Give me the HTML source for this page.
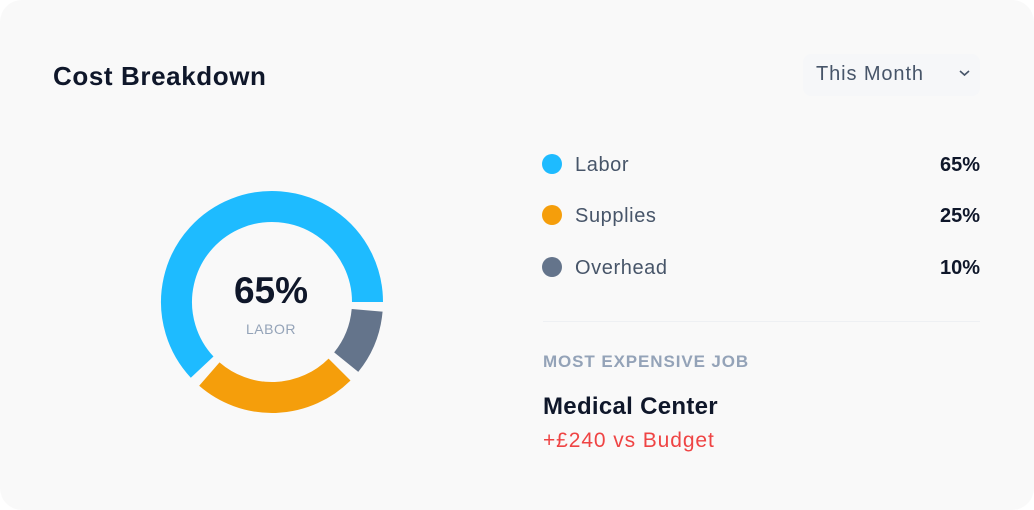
<!DOCTYPE html>
<html><head><meta charset="utf-8"><style>
html,body{margin:0;padding:0;background:#fff;}
body{width:1034px;height:510px;position:relative;overflow:hidden;font-family:"Liberation Sans",sans-serif;}
.card{position:absolute;left:0;top:0;width:1034px;height:510px;background:#f9f9f9;border-radius:22px;}
.t{position:absolute;white-space:nowrap;}
.dot{position:absolute;width:20px;height:20px;border-radius:50%;}
</style></head><body>
<div class="card"></div>
<div class="t" style="left:53px;top:61px;font-size:26px;font-weight:bold;color:#0f172a;letter-spacing:0.6px;">Cost Breakdown</div>
<div style="position:absolute;left:803px;top:54px;width:177px;height:42px;background:#f6f7f9;border-radius:8px;"></div>
<div class="t" style="left:816px;top:63px;font-size:20px;color:#475569;letter-spacing:0.9px;">This Month</div>
<svg style="position:absolute;left:958px;top:68px" width="14" height="10"><path d="M2 3 L6.5 7 L11 3" fill="none" stroke="#475569" stroke-width="1.6"/></svg>
<svg style="position:absolute;left:0;top:0" width="1034" height="510">
<g fill="none" stroke-width="31">
<path d="M202.15 367.13 A95.5 95.5 0 1 1 367.5 302" stroke="#1ebbff"/>
<path d="M339.53 369.53 A95.5 95.5 0 0 1 209.34 374.08" stroke="#f59e0b"/>
<path d="M367.14 310.32 A95.5 95.5 0 0 1 346.21 362.10" stroke="#64748b"/>
</g>
<text x="271" y="303" text-anchor="middle" font-family="Liberation Sans" font-weight="bold" font-size="37" fill="#0f172a">65%</text>
<text x="271" y="334" text-anchor="middle" font-family="Liberation Sans" font-size="14" fill="#94a3b8" letter-spacing="0.5">LABOR</text>
<line x1="543" y1="321.5" x2="980" y2="321.5" stroke="#eef0f3" stroke-width="1"/>
</svg>
<div class="dot" style="left:542px;top:154px;background:#1ebbff"></div>
<div class="dot" style="left:542px;top:205px;background:#f59e0b"></div>
<div class="dot" style="left:542px;top:257px;background:#64748b"></div>
<div class="t" style="left:575px;top:154px;font-size:20px;color:#475569;letter-spacing:0.6px;">Labor</div>
<div class="t" style="left:575px;top:205px;font-size:20px;color:#475569;letter-spacing:0.6px;">Supplies</div>
<div class="t" style="left:575px;top:257px;font-size:20px;color:#475569;letter-spacing:0.6px;">Overhead</div>
<div class="t" style="right:54px;top:154px;font-size:20px;font-weight:bold;color:#0f172a;">65%</div>
<div class="t" style="right:54px;top:205px;font-size:20px;font-weight:bold;color:#0f172a;">25%</div>
<div class="t" style="right:54px;top:257px;font-size:20px;font-weight:bold;color:#0f172a;">10%</div>
<div class="t" style="left:543px;top:352px;font-size:17px;font-weight:bold;color:#94a3b8;letter-spacing:0.9px;">MOST EXPENSIVE JOB</div>
<div class="t" style="left:543px;top:393px;font-size:24px;font-weight:bold;color:#0f172a;letter-spacing:0.3px;">Medical Center</div>
<div class="t" style="left:543px;top:429px;font-size:21px;color:#ef4444;letter-spacing:0.9px;">+£240 vs Budget</div>
</body></html>
